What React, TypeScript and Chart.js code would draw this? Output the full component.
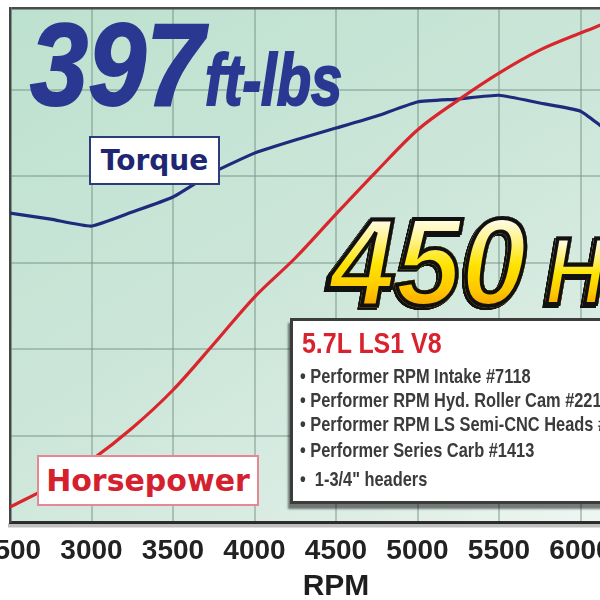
import React, { useEffect, useRef } from "react";
import { Chart, registerables } from "chart.js";

Chart.register(...registerables);

// ---- data ----
const rpm = [2500, 2750, 3000, 3250, 3500, 3750, 4000, 4250, 4500, 4750, 5000, 5250, 5500, 5750, 6000, 6125];
const horsepower = [158.7, 170.8, 185.9, 204.4, 226.4, 253.0, 280.2, 302.8, 328.2, 353.1, 376.9, 394.2, 409.8, 423.1, 433.0, 437.6];
const torque = [328.8, 325.3, 321.3, 329.4, 338.1, 352.5, 363.5, 371.1, 378.0, 385.0, 393.1, 394.8, 397.0, 392.5, 387.8, 379.2];

const rpmTicks = [2500, 3000, 3500, 4000, 4500, 5000, 5500, 6000];
const rpmMin = 2500;
const rpmMax = 6500;
const valueGrid = [150, 200, 250, 300, 350, 400];
const valueMin = 150;
const valueMax = 447.5;

const axisTitle = "RPM";
const torqueLabel = "Torque";
const hpLabel = "Horsepower";
const torquePeak = "397";
const torqueUnit = "ft-lbs";
const hpPeak = "450";
const hpUnit = "HP";
const engineTitle = "5.7L LS1 V8";
const specLines = [
  "Performer RPM Intake #7118",
  "Performer RPM Hyd. Roller Cam #2215",
  "Performer RPM LS Semi-CNC Heads #61809",
  "Performer Series Carb #1413",
  " 1-3/4\" headers",
];

const LIB = '"Liberation Sans", Arial, sans-serif';
const DEJAVU = '"DejaVu Sans", Verdana, sans-serif';

const plotPlugin = {
  id: "plotBg",
  beforeDraw(chart: any) {
    const { ctx, chartArea: a } = chart;
    if (!a) return;
    const g = ctx.createLinearGradient(a.left, a.top, a.left + 380, a.bottom + 120);
    g.addColorStop(0, "#bde1cf");
    g.addColorStop(0.5, "#cce6d9");
    g.addColorStop(0.82, "#dcede5");
    g.addColorStop(1, "#eef6f2");
    ctx.save();
    ctx.fillStyle = g;
    ctx.fillRect(a.left, a.top, a.right - a.left, a.bottom - a.top);
    ctx.restore();
  },
  afterDraw(chart: any) {
    const { ctx, chartArea: a } = chart;
    if (!a) return;
    ctx.save();
    ctx.fillStyle = "rgba(0,0,0,0.25)";
    ctx.fillRect(a.left - 2, a.bottom + 1.5, a.right - a.left + 2, 4);
    ctx.restore();
  },
};

function ChartCanvas() {
  const ref = useRef<HTMLCanvasElement | null>(null);
  useEffect(() => {
    if (!ref.current) return;
    const chart = new Chart(ref.current, {
      type: "line",
      data: {
        datasets: [
          {
            label: hpLabel,
            data: rpm.map((r, i) => ({ x: r, y: horsepower[i] })),
            borderColor: "#d9262c",
            borderWidth: 3.2,
            pointRadius: 0,
            cubicInterpolationMode: "monotone",
          },
          {
            label: torqueLabel,
            data: rpm.map((r, i) => ({ x: r, y: torque[i] })),
            borderColor: "#1f2a7c",
            borderWidth: 3.2,
            pointRadius: 0,
            tension: 0.15,
          },
        ],
      },
      options: {
        animation: false,
        responsive: false,
        devicePixelRatio: 1,
        events: [],
        layout: { padding: { left: 70, right: 18, top: 8, bottom: 0 } },
        plugins: { legend: { display: false }, tooltip: { enabled: false } },
        scales: {
          x: {
            type: "linear",
            min: rpmMin,
            max: rpmMax,
            afterBuildTicks: (s: any) => {
              s.ticks = rpmTicks.map((v) => ({ value: v }));
            },
            afterFit: (s: any) => {
              s.height = 78;
            },
            ticks: {
              autoSkip: false,
              maxRotation: 0,
              padding: 12,
              color: "#222222",
              font: { family: LIB, size: 28, weight: "bold" },
              callback: (v: any) => String(v),
            },
            grid: {
              drawTicks: false,
              color: (c: any) => (c.tick && c.tick.value === rpmMin ? "#444" : "rgba(110,145,128,0.45)"),
              lineWidth: 2,
            },
            border: { color: "#2e2e2e", width: 3 },
            title: {
              display: true,
              text: axisTitle,
              color: "#1e1e1e",
              font: { family: LIB, size: 30, weight: "bold", lineHeight: 0.9 },
              padding: { top: 0, bottom: 0 },
            },
          },
          y: {
            type: "linear",
            min: valueMin,
            max: valueMax,
            afterBuildTicks: (s: any) => {
              s.ticks = [...valueGrid, valueMax].map((v) => ({ value: v }));
            },
            ticks: { display: false },
            grid: {
              drawTicks: false,
              color: (c: any) => (c.tick && c.tick.value === valueMax ? "#4a4a4a" : "rgba(110,145,128,0.45)"),
              lineWidth: (c: any) => (c.tick && c.tick.value === valueMax ? 2.5 : 2),
            },
            border: { color: "#454545", width: 2.5 },
          },
        },
      },
      plugins: [plotPlugin],
    } as any);
    return () => chart.destroy();
  }, []);
  return (
    <canvas
      ref={ref}
      width={740}
      height={600}
      style={{ position: "absolute", left: -60, top: 0, width: 740, height: 600 }}
    />
  );
}

const yellowText: React.CSSProperties = {
  background:
    "linear-gradient(to bottom, #fffef4 14%, #fff38a 32%, #ffe400 52%, #ffc800 72%, #f6a300 88%)",
  WebkitBackgroundClip: "text",
  backgroundClip: "text",
  color: "transparent",
  WebkitTextFillColor: "transparent",
  WebkitTextStroke: "4px #111",
} as any;

export default function App() {
  const specBaselines = [383, 407, 431, 457, 486];
  return (
    <div
      style={{
        position: "fixed",
        left: 0,
        top: 0,
        width: 600,
        height: 600,
        overflow: "hidden",
        background: "#ffffff",
      }}
    >
      <ChartCanvas />

      {/* 397 ft-lbs */}
      <div
        style={{
          position: "absolute",
          left: 30,
          top: 7,
          font: `italic bold 116px ${LIB}`,
          lineHeight: 1,
          color: "#2b3891",
          WebkitTextStroke: "2px #2b3891",
          transform: "scaleX(0.9)",
          transformOrigin: "left top",
          whiteSpace: "nowrap",
        } as any}
      >
        {torquePeak}
      </div>
      <div
        style={{
          position: "absolute",
          left: 205,
          top: 44,
          font: `italic bold 72px ${LIB}`,
          lineHeight: 1,
          color: "#2b3891",
          WebkitTextStroke: "2px #2b3891",
          transform: "scaleX(0.78)",
          transformOrigin: "left top",
          whiteSpace: "nowrap",
        } as any}
      >
        {torqueUnit}
      </div>

      {/* Torque label */}
      <div
        style={{
          position: "absolute",
          left: 89,
          top: 136,
          width: 131,
          height: 49,
          boxSizing: "border-box",
          border: "2px solid #2d3b7d",
          background: "#ffffff",
          display: "flex",
          alignItems: "center",
          justifyContent: "center",
          font: `bold 28px ${DEJAVU}`,
          color: "#1f2772",
          whiteSpace: "nowrap",
        }}
      >
        {torqueLabel}
      </div>

      {/* Horsepower label */}
      <div
        style={{
          position: "absolute",
          left: 37,
          top: 455,
          width: 222,
          height: 51,
          boxSizing: "border-box",
          border: "2px solid #e58893",
          background: "#ffffff",
          display: "flex",
          alignItems: "center",
          justifyContent: "center",
          font: `bold 30px ${DEJAVU}`,
          color: "#d5202e",
          whiteSpace: "nowrap",
        }}
      >
        {hpLabel}
      </div>

      {/* 450 HP */}
      <div
        style={{
          position: "absolute",
          left: 0,
          top: 0,
          width: 600,
          height: 600,
          filter: "drop-shadow(-2px 2px 0 #111) drop-shadow(0 0 0.6px #000)",
          pointerEvents: "none",
        }}
      >
        <div
          style={{
            position: "absolute",
            left: 330,
            top: 200,
            font: `italic bold 124px ${LIB}`,
            lineHeight: 1,
            transform: "scaleX(0.95)",
            transformOrigin: "left top",
            whiteSpace: "nowrap",
            ...yellowText,
          }}
        >
          {hpPeak}
        </div>
        <div
          style={{
            position: "absolute",
            left: 545,
            top: 225,
            font: `italic bold 94px ${LIB}`,
            lineHeight: 1,
            transform: "scaleX(0.9)",
            transformOrigin: "left top",
            whiteSpace: "nowrap",
            ...yellowText,
          }}
        >
          {hpUnit}
        </div>
      </div>

      {/* spec box */}
      <div
        style={{
          position: "absolute",
          left: 290,
          top: 318,
          width: 340,
          height: 186,
          boxSizing: "border-box",
          border: "3px solid #3c3c3c",
          background: "#ffffff",
          boxShadow: "-2px 5px 2px rgba(0,0,0,0.5)",
        }}
      />
      <div
        style={{
          position: "absolute",
          left: 302,
          top: 328.5,
          font: `bold 29px ${LIB}`,
          lineHeight: 1,
          color: "#d8232f",
          transform: "scaleX(0.86)",
          transformOrigin: "left top",
          whiteSpace: "nowrap",
        }}
      >
        {engineTitle}
      </div>
      {specLines.map((line, i) => (
        <div
          key={i}
          style={{
            position: "absolute",
            left: 300,
            top: specBaselines[i] - 17.8,
            font: `bold 21px ${LIB}`,
            lineHeight: 1,
            color: "#3b3b3b",
            transform: "scaleX(0.78)",
            transformOrigin: "left top",
            whiteSpace: "pre",
          }}
        >
          {"\u2022 " + line}
        </div>
      ))}
    </div>
  );
}
